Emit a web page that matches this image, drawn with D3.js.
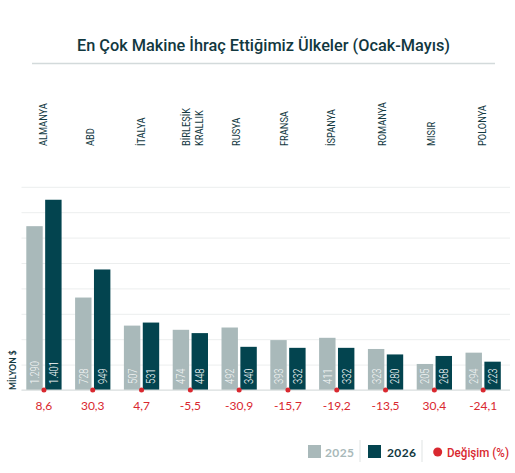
<!DOCTYPE html>
<html>
<head>
<meta charset="utf-8">
<title>En Çok Makine İhraç Ettiğimiz Ülkeler</title>
<style>
html, body { margin: 0; background: #fff; }
svg { display: block; }
text { font-family: Lato, sans-serif; }
.cond { font-family: Roboto, sans-serif; }
.grid .domain { display: none; }
.grid line { stroke: #eceeee; stroke-width: 1; }
.grid text { display: none; }
</style>
</head>
<body>
<svg></svg>
<script src="https://d3js.org/d3.v7.min.js"></script>
<script>
const countries = ['ALMANYA', 'ABD', 'İTALYA', 'BİRLEŞİK|KRALLIK', 'RUSYA', 'FRANSA', 'İSPANYA', 'ROMANYA', 'MISIR', 'POLONYA'];
// bar heights (Almanya 2026 is drawn taller than its printed 1.401)
const values2025 = [1290, 728, 507, 474, 492, 393, 411, 323, 205, 294];
const values2026 = [1498, 949, 531, 448, 340, 332, 332, 280, 268, 223];
const labels2025 = ['1.290', '728', '507', '474', '492', '393', '411', '323', '205', '294'];
const labels2026 = ['1.401', '949', '531', '448', '340', '332', '332', '280', '268', '223'];
const changes = ['8,6', '30,3', '4,7', '-5,5', '-30,9', '-15,7', '-19,2', '-13,5', '30,4', '-24,1'];
const gridTicks = [0, 200, 400, 600, 800, 1000, 1200, 1400, 1600];
const seriesNames = ['2025', '2026'];

const width = 515, height = 473;
const dark = '#03444f', grey = '#a9b9ba', red = '#d9282f', ink = '#12383f';
// small offsets of the rotated country names from their group centre
const nameNudge = [-1, -3, -1, 2, -3, -4, -6, -4, -3, -1];

const svg = d3.select('svg').attr('width', width).attr('height', height);

const x = d3.scaleBand().domain(countries).range([26.3, 500.8]).paddingInner(0.277);
const x1 = d3.scaleBand().domain(seriesNames).range([0, x.bandwidth()]).paddingInner(0.13);
const y = d3.scaleLinear().domain([0, 1600]).range([390, 186.8]);

svg.append('text')
   .attr('x', 77).attr('y', 51)
   .attr('textLength', 373).attr('lengthAdjust', 'spacingAndGlyphs')
   .attr('fill', ink)
   .style('font-family', 'Roboto, sans-serif')
   .style('font-size', '17px').style('font-weight', 500)
   .text('En Çok Makine İhraç Ettiğimiz Ülkeler (Ocak-Mayıs)');

svg.append('line')
   .attr('x1', 32).attr('x2', 495).attr('y1', 63.5).attr('y2', 63.5)
   .attr('stroke', '#d3dadb').attr('stroke-width', 1.5);

svg.append('g').attr('class', 'grid')
   .attr('transform', 'translate(21.5,0)')
   .call(d3.axisRight(y).tickValues(gridTicks).tickSize(488.5));

// country names
countries.forEach((c, i) => {
  const cx = x(c) + x.bandwidth() / 2 + nameNudge[i];
  const lines = c.split('|');
  lines.forEach((t, j) => {
    const off = lines.length > 1 ? (j === 0 ? -6.5 : 6.5) : 0;
    svg.append('text').attr('class', 'cond')
       .attr('transform', `translate(${cx + off + 4},146) rotate(-90) scale(0.84,1)`)
       .attr('fill', ink)
       .style('font-size', '11px')
       .text(t);
  });
});

const bars = [
  { name: '2025', values: values2025, labels: labels2025, color: grey, text: 'rgba(255,255,255,0.9)' },
  { name: '2026', values: values2026, labels: labels2026, color: dark, text: '#fff' }
];

bars.forEach(s => {
  const g = svg.append('g');
  g.selectAll('rect').data(s.values).join('rect')
   .attr('x', (d, i) => x(countries[i]) + x1(s.name))
   .attr('y', d => y(d))
   .attr('width', x1.bandwidth())
   .attr('height', d => y(0) - y(d))
   .attr('fill', s.color);
  g.selectAll('text').data(s.labels).join('text')
   .attr('class', 'cond')
   .attr('transform', (d, i) => `translate(${x(countries[i]) + x1(s.name) + x1.bandwidth() / 2 + 4.5},384) rotate(-90) scale(0.72,1)`)
   .attr('fill', s.text)
   .style('font-size', '13px').style('font-weight', 300)
   .text(d => d);
});

svg.append('line')
   .attr('x1', 21.5).attr('x2', 510).attr('y1', y(0)).attr('y2', y(0))
   .attr('stroke', '#d8dddd').attr('stroke-width', 1);

// change markers and values
const dotX = (d, i) => x(countries[i]) + x.bandwidth() / 2;
svg.append('g').selectAll('circle').data(changes).join('circle')
   .attr('cx', dotX).attr('cy', y(0)).attr('r', 2.5).attr('fill', red);
svg.append('g').selectAll('text').data(changes).join('text')
   .attr('x', dotX).attr('y', 409.5)
   .attr('text-anchor', 'middle').attr('fill', red)
   .style('font-size', '12px')
   .text(d => d);

svg.append('text')
   .attr('transform', 'translate(15.5,390) rotate(-90)')
   .attr('fill', ink)
   .style('font-size', '8.5px').style('font-weight', 700)
   .text('MİLYON $');

// legend
svg.append('rect').attr('x', 308).attr('y', 445).attr('width', 13).attr('height', 13).attr('fill', grey);
svg.append('text').attr('x', 325).attr('y', 456.5).attr('fill', grey)
   .style('font-size', '12px').style('font-weight', 700).style('letter-spacing', '0.4px').text(seriesNames[0]);
svg.append('line').attr('x1', 360).attr('x2', 360).attr('y1', 440).attr('y2', 462).attr('stroke', '#dfe3e3');
svg.append('rect').attr('x', 368).attr('y', 445).attr('width', 13).attr('height', 13).attr('fill', dark);
svg.append('text').attr('x', 387).attr('y', 456.5).attr('fill', ink)
   .style('font-size', '12px').style('font-weight', 700).style('letter-spacing', '0.4px').text(seriesNames[1]);
svg.append('line').attr('x1', 422).attr('x2', 422).attr('y1', 440).attr('y2', 462).attr('stroke', '#dfe3e3');
svg.append('circle').attr('cx', 437.7).attr('cy', 452).attr('r', 4.5).attr('fill', red);
svg.append('text').attr('x', 447).attr('y', 456.5).attr('textLength', 62).attr('lengthAdjust', 'spacingAndGlyphs').attr('fill', red)
   .style('font-family', 'Roboto, sans-serif')
   .style('font-size', '12.5px').style('font-weight', 500).text('Değişim (%)');
</script>
</body>
</html>
